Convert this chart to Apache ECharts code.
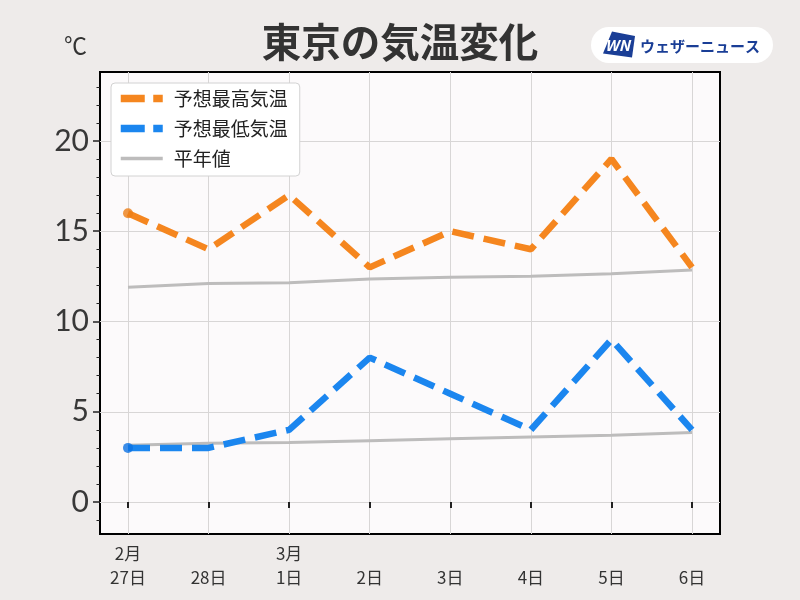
<!DOCTYPE html>
<html><head><meta charset="utf-8">
<script src="https://cdn.jsdelivr.net/npm/echarts@6/dist/echarts.min.js"></script>
<style>html,body{margin:0;padding:0;background:#eeebea;}#c{width:800px;height:600px;}</style>
</head><body><div id="c"></div>
<script>
const categories = ['2月\n27日', '\n28日', '3月\n1日', '\n2日', '\n3日', '\n4日', '\n5日', '\n6日'];
const forecastHigh = [16, 14, 17, 13, 15, 14, 19, 13];
const forecastLow = [3, 3, 4, 8, 6, 4, 9, 4];
const normalHigh = [11.9, 12.1, 12.15, 12.35, 12.45, 12.5, 12.65, 12.85];
const normalLow = [3.15, 3.25, 3.3, 3.4, 3.5, 3.6, 3.7, 3.85];
const yTicks = [0, 5, 10, 15, 20];
const yMinorTicks = [-1, 1, 2, 3, 4, 6, 7, 8, 9, 11, 12, 13, 14, 16, 17, 18, 19, 21, 22, 23];
const seriesNames = ['予想最高気温', '予想最低気温', '平年値'];

const FONT = '"Noto Sans CJK JP", "Noto Sans", sans-serif';
const Y_MIN = -1.77, Y_MAX = 23.82;
const chart = echarts.init(document.getElementById('c'), null, {renderer: 'canvas'});

const ORANGE = '#f5861f', BLUE = '#1b86ef', GRAY = '#bdbcbc';
const DASH = [22, 10];

chart.setOption({
  backgroundColor: '#eeebea',
  animation: false,
  title: {
    text: '東京の気温変化', left: 'center', top: 17,
    textStyle: {fontFamily: FONT, fontSize: 39.5, fontWeight: 'bold', color: '#333'}
  },
  grid: [
    {left: 100, top: 72, width: 620, height: 462, show: true, backgroundColor: '#fcfafb', borderColor: '#000', borderWidth: 2, z: 0},
    {left: 128, top: 72, width: 564, height: 462}
  ],
  legend: {
    left: 111, top: 83, orient: 'vertical', itemWidth: 42, itemHeight: 18, itemGap: 11,
    backgroundColor: '#ffffff', borderColor: '#d2d2d2', borderWidth: 1, borderRadius: 4,
    padding: [6, 12, 8, 6],
    itemStyle: {opacity: 0},
    data: [
      {name: seriesNames[0], lineStyle: {color: ORANGE, width: 7.5, type: [24, 8.5], opacity: 1}},
      {name: seriesNames[1], lineStyle: {color: BLUE, width: 7.5, type: [24, 8.5], opacity: 1}},
      {name: seriesNames[2], lineStyle: {color: GRAY, width: 3.5, type: 'solid', opacity: 1}}
    ],
    textStyle: {fontFamily: FONT, fontSize: 19, color: '#222', padding: [0, 0, 0, 6]}
  },
  xAxis: [
    {type: 'value', gridIndex: 0, min: 0, max: 1, show: false},
    {
      type: 'category', gridIndex: 1, data: categories, boundaryGap: false,
      axisLine: {show: false},
      axisTick: {show: true, length: 6, lineStyle: {color: '#222', width: 2}},
      splitLine: {show: true, lineStyle: {color: '#d8d6d6', width: 1}},
      axisLabel: {fontFamily: FONT, fontSize: 17, color: '#333', lineHeight: 24, margin: 8}
    }
  ],
  yAxis: [
    {
      type: 'value', gridIndex: 0, min: Y_MIN, max: Y_MAX,
      axisLine: {show: false},
      axisTick: {show: true, length: 7, customValues: yTicks, lineStyle: {color: '#222', width: 1.5}},
      axisLabel: {customValues: yTicks, fontFamily: 'Lato, "DejaVu Sans", sans-serif', fontWeight: 400, fontSize: 30, color: '#383838', margin: 11},
      splitLine: {show: true, lineStyle: {color: '#d8d6d6', width: 1}}
    },
    {
      type: 'value', gridIndex: 0, min: Y_MIN, max: Y_MAX, position: 'left',
      axisLine: {show: false},
      axisTick: {show: true, length: 3.5, customValues: yMinorTicks, lineStyle: {color: '#222', width: 1}},
      axisLabel: {show: false, customValues: yMinorTicks},
      splitLine: {show: false}
    },
    {type: 'value', gridIndex: 1, min: Y_MIN, max: Y_MAX, show: false}
  ],
  series: [
    {
      name: '平年値', type: 'line', xAxisIndex: 1, yAxisIndex: 2, data: normalHigh,
      symbol: 'none', lineStyle: {color: GRAY, width: 3}, itemStyle: {color: GRAY}, z: 2
    },
    {
      name: '平年値', type: 'line', xAxisIndex: 1, yAxisIndex: 2, data: normalLow,
      symbol: 'none', lineStyle: {color: GRAY, width: 3}, itemStyle: {color: GRAY}, z: 2
    },
    {
      name: '予想最高気温', type: 'line', xAxisIndex: 1, yAxisIndex: 2, data: forecastHigh,
      symbol: 'none', lineStyle: {color: ORANGE, width: 6.5, type: DASH}, itemStyle: {color: ORANGE}, z: 3
    },
    {
      name: '予想最低気温', type: 'line', xAxisIndex: 1, yAxisIndex: 2, data: forecastLow,
      symbol: 'none', lineStyle: {color: BLUE, width: 6.5, type: DASH}, itemStyle: {color: BLUE}, z: 3
    },
    {
      type: 'scatter', xAxisIndex: 1, yAxisIndex: 2, data: [[0, forecastHigh[0]]],
      symbolSize: 10, itemStyle: {color: '#ec7e16'}, z: 4, silent: true
    },
    {
      type: 'scatter', xAxisIndex: 1, yAxisIndex: 2, data: [[0, forecastLow[0]]],
      symbolSize: 10, itemStyle: {color: '#0b72e4'}, z: 4, silent: true
    }
  ],
  graphic: [
    {type: 'text', left: 64, top: 34, style: {text: '℃', fontFamily: FONT, fontSize: 23, fill: '#333'}},
    {
      type: 'group', left: 591, top: 27, children: [
        {type: 'rect', shape: {x: 0, y: 0, width: 182, height: 36, r: 18}, style: {fill: '#ffffff'}},
        {type: 'polygon', shape: {points: [[21, 4.5], [44, 9], [41, 30.5], [12, 26.5]]}, style: {fill: '#1a3e96'}},
        {type: 'text', x: 26.5, y: 18, style: {text: 'WN', fontFamily: FONT, fontSize: 15, fontWeight: 'bold', fontStyle: 'italic', fill: '#fff', align: 'center', verticalAlign: 'middle'}},
        {type: 'text', x: 49, y: 19, style: {text: 'ウェザーニュース', fontFamily: FONT, fontSize: 15, fontWeight: 'bold', fill: '#1a3e96', verticalAlign: 'middle'}}
      ]
    }
  ]
});
</script></body></html>
